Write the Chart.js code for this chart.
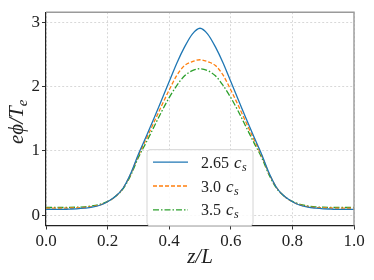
<!DOCTYPE html>
<html>
<head>
<meta charset="utf-8">
<script src="https://cdn.jsdelivr.net/npm/chart.js@4"></script>
<style>
html,body{margin:0;padding:0;background:#fff;}
canvas{display:block;}
</style>
</head>
<body>
<canvas id="c" width="374" height="280"></canvas>
<script>
// ---- data ----
const zValues = [0,0.025,0.05,0.075,0.1,0.125,0.15,0.175,0.2,0.225,0.25,0.275,0.3,0.325,0.35,0.375,0.4,0.425,0.45,0.475,0.5,
  0.525,0.55,0.575,0.6,0.625,0.65,0.675,0.7,0.725,0.75,0.775,0.8,0.825,0.85,0.875,0.9,0.925,0.95,0.975,1.0];
const phi265 = [0.09,0.09,0.09,0.095,0.10,0.11,0.125,0.155,0.21,0.29,0.42,0.65,0.95,1.22,1.50,1.79,2.08,2.37,2.62,2.82,2.91,
  2.82,2.62,2.37,2.08,1.79,1.50,1.22,0.95,0.65,0.42,0.29,0.21,0.155,0.125,0.11,0.10,0.095,0.09,0.09,0.09];
const phi30 = [0.11,0.11,0.11,0.112,0.115,0.12,0.135,0.16,0.21,0.29,0.42,0.64,0.93,1.18,1.44,1.70,1.95,2.18,2.33,2.39,2.42,
  2.39,2.33,2.18,1.95,1.70,1.44,1.18,0.93,0.64,0.42,0.29,0.21,0.16,0.135,0.12,0.115,0.112,0.11,0.11,0.11];
const phi35 = [0.12,0.12,0.12,0.122,0.125,0.13,0.145,0.17,0.215,0.29,0.41,0.62,0.90,1.13,1.37,1.61,1.83,2.02,2.17,2.25,2.28,
  2.25,2.17,2.02,1.83,1.61,1.37,1.13,0.90,0.62,0.41,0.29,0.215,0.17,0.145,0.13,0.125,0.122,0.12,0.12,0.12];
const seriesLabels = ["2.65", "3.0", "3.5"];
const xTickValues = [0, 0.2, 0.4, 0.6, 0.8, 1.0];
const yTickValues = [0, 1, 2, 3];

const SERIF = "'Liberation Serif', 'DejaVu Serif', serif";
const colors = ['#1f77b4', '#ff7f0e', '#2ca02c'];
const dashes = [[], [4, 2], [6, 2, 1.5, 2]];
const allSeries = [phi265, phi30, phi35];

const datasets = allSeries.map((arr, k) => ({
  label: seriesLabels[k],
  data: zValues.map((z, i) => ({x: z, y: arr[i]})),
  borderColor: colors[k],
  borderWidth: 1.3,
  borderDash: dashes[k],
  pointRadius: 0,
  fill: false,
  cubicInterpolationMode: 'monotone'
}));

const framePlugin = {
  id: 'frame',
  afterDatasetsDraw(chart) {
    const {ctx, chartArea: a} = chart;
    ctx.save();
    // top and right spines (grey)
    ctx.strokeStyle = '#9a9a9a';
    ctx.lineWidth = 1.4;
    ctx.beginPath();
    ctx.moveTo(a.left, a.top);
    ctx.lineTo(a.right, a.top);
    ctx.lineTo(a.right, a.bottom);
    ctx.stroke();

    // legend box
    const bx = a.left + 101, by = a.top + 137.5, bw = 106, bh = 76, r = 3;
    ctx.beginPath();
    ctx.moveTo(bx + r, by);
    ctx.arcTo(bx + bw, by, bx + bw, by + bh, r);
    ctx.arcTo(bx + bw, by + bh, bx, by + bh, r);
    ctx.arcTo(bx, by + bh, bx, by, r);
    ctx.arcTo(bx, by, bx + bw, by, r);
    ctx.closePath();
    ctx.fillStyle = 'rgba(255,255,255,0.85)';
    ctx.fill();
    ctx.strokeStyle = '#d4d4d4';
    ctx.lineWidth = 1;
    ctx.stroke();

    chart.data.datasets.forEach((ds, k) => {
      const y = by + 12.5 + k * 23.8;
      ctx.strokeStyle = ds.borderColor;
      ctx.lineWidth = ds.borderWidth;
      ctx.setLineDash(ds.borderDash);
      ctx.beginPath();
      ctx.moveTo(bx + 6, y);
      ctx.lineTo(bx + 41, y);
      ctx.stroke();
      ctx.setLineDash([]);
      ctx.fillStyle = '#222';
      ctx.textBaseline = 'alphabetic';
      ctx.textAlign = 'left';
      let tx = bx + 54;
      const base = y + 5.5;
      ctx.font = `16px ${SERIF}`;
      ctx.fillText(ds.label, tx, base);
      tx += ctx.measureText(ds.label).width + 5;
      ctx.font = `italic 17px ${SERIF}`;
      ctx.fillText('c', tx, base);
      tx += ctx.measureText('c').width + 0.5;
      ctx.font = `italic 12px ${SERIF}`;
      ctx.fillText('s', tx, base + 3);
    });

    // axis titles
    ctx.fillStyle = '#222';
    ctx.font = `italic 21px ${SERIF}`;
    ctx.textAlign = 'center';
    ctx.textBaseline = 'alphabetic';
    ctx.fillText('z/L', (a.left + a.right) / 2, 263);

    ctx.save();
    ctx.translate(23, (a.top + a.bottom) / 2 + 3);
    ctx.rotate(-Math.PI / 2);
    const parts = [
      {t: 'e', f: `italic 21px ${SERIF}`, dy: 0},
      {t: 'ϕ', f: `italic 21px ${SERIF}`, dy: 0},
      {t: '/', f: `italic 21px ${SERIF}`, dy: 0},
      {t: 'T', f: `italic 21px ${SERIF}`, dy: 0},
      {t: 'e', f: `italic 15px ${SERIF}`, dy: 4}
    ];
    let total = 0;
    parts.forEach(p => { ctx.font = p.f; p.w = ctx.measureText(p.t).width; total += p.w; });
    let px = -total / 2;
    ctx.textAlign = 'left';
    parts.forEach(p => { ctx.font = p.f; ctx.fillText(p.t, px, p.dy); px += p.w; });
    ctx.restore();
    ctx.restore();
  }
};

new Chart(document.getElementById('c'), {
  type: 'line',
  data: {datasets},
  options: {
    responsive: false,
    animation: false,
    events: [],
    layout: {padding: {top: 3, right: 20, left: 0, bottom: 0}},
    plugins: {legend: {display: false}, tooltip: {enabled: false}},
    scales: {
      x: {
        type: 'linear', min: 0, max: 1,
        afterBuildTicks: s => { s.ticks = xTickValues.map(v => ({value: v})); },
        afterFit: s => { s.height = 54.5; },
        ticks: {callback: v => v.toFixed(1), font: {family: SERIF, size: 17}, color: '#222', padding: 2, maxRotation: 0, autoSkip: false},
        grid: {color: '#cfcfcf', lineWidth: 0.8, tickLength: 4, tickColor: '#333', tickWidth: 1},
        border: {color: '#222', width: 1.2, dash: [2, 2]}
      },
      y: {
        type: 'linear', min: -0.16, max: 3.16,
        afterBuildTicks: s => { s.ticks = yTickValues.map(v => ({value: v})); },
        afterFit: s => { s.width = 46; },
        ticks: {callback: v => String(v), font: {family: SERIF, size: 17}, color: '#222', padding: 2, autoSkip: false},
        grid: {color: '#cfcfcf', lineWidth: 0.8, tickLength: 4, tickColor: '#333', tickWidth: 1},
        border: {color: '#222', width: 1.2, dash: [2, 2]}
      }
    }
  },
  plugins: [framePlugin]
});
</script>
</body>
</html>
